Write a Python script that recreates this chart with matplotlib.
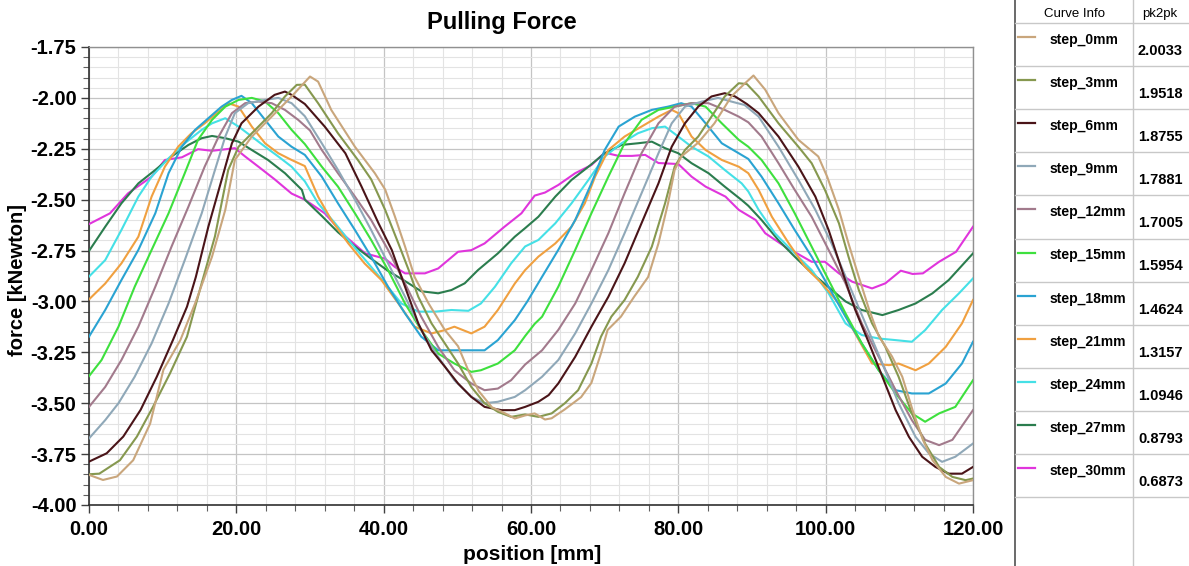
import matplotlib
matplotlib.use("Agg")
import matplotlib.pyplot as plt
from matplotlib.ticker import MultipleLocator, FormatStrFormatter

plt.rcParams["font.family"] = ["Liberation Sans", "DejaVu Sans"]

# ----------------------------------------------------------------------------------------------------------------------
# Curve data (position [mm], force [kNewton])

names = ["step_0mm", "step_3mm", "step_6mm", "step_9mm", "step_12mm", "step_15mm",
         "step_18mm", "step_21mm", "step_24mm", "step_27mm", "step_30mm"]
pk2pk = ["2.0033", "1.9518", "1.8755", "1.7881", "1.7005", "1.5954",
         "1.4624", "1.3157", "1.0946", "0.8793", "0.6873"]
colors = ["#c9a67c", "#86984f", "#4a1418", "#8fa8b8", "#a27a8c", "#3ee03e",
          "#2aa3d2", "#f0a040", "#45e0e6", "#2b7d4e", "#e035dc"]

x0 = [0, 1.9, 3.8, 6.0, 8.3, 10.1, 12.4, 14.4, 16.7, 18.5, 19.8, 22.1, 24.8, 27.5, 30.0, 31.1, 32.9, 36.1,
      38.8, 40.2, 41.5, 42.9, 44.2, 46.1, 48.3, 50.1, 51.5, 52.9, 54.7, 56.5, 57.8, 59.2, 60.5, 61.9, 62.8,
      64.6, 66.8, 68.2, 69.5, 70.4, 72.2, 74.0, 75.9, 77.3, 78.6, 79.5, 80.4, 82.7, 84.9, 87.2, 89.0, 90.2,
      91.8, 93.6, 96.3, 99.0, 100.2, 101.8, 103.1, 104.5, 105.9, 107.2, 109.0, 110.4, 111.8, 113.2, 114.5,
      116.3, 118.1, 120]
y0 = [-3.852, -3.877, -3.86, -3.78, -3.60, -3.336, -3.19, -3.01, -2.78, -2.55, -2.305, -2.19, -2.092, -1.993,
      -1.895, -1.92, -2.06, -2.24, -2.37, -2.45, -2.58, -2.73, -2.88, -3.01, -3.14, -3.22, -3.34, -3.44, -3.52,
      -3.55, -3.575, -3.56, -3.55, -3.58, -3.574, -3.53, -3.47, -3.40, -3.255, -3.14, -3.075, -2.977, -2.88,
      -2.715, -2.518, -2.354, -2.288, -2.22, -2.125, -1.993, -1.93, -1.89, -1.96, -2.075, -2.206, -2.288,
      -2.387, -2.55, -2.715, -2.88, -3.04, -3.17, -3.27, -3.37, -3.534, -3.68, -3.78, -3.862, -3.895, -3.878]

x3 = [0, 1.4, 4.2, 6.5, 8.7, 11.0, 13.3, 15.3, 17.1, 18.9, 20.3, 22.1, 24.8, 26.6, 28.2, 29.3, 31.1, 33.8,
      36.5, 38.3, 40.2, 42.0, 43.4, 44.7, 46.5, 48.3, 50.1, 51.9, 53.7, 55.5, 57.3, 59.2, 61.0, 62.8, 64.6,
      66.4, 68.2, 69.5, 70.9, 72.7, 74.5, 76.4, 78.2, 79.5, 80.9, 82.7, 84.5, 86.3, 88.2, 89.3, 90.9, 93.6,
      96.3, 98.1, 99.9, 101.8, 103.1, 104.5, 106.3, 108.1, 109.9, 111.7, 113.5, 115.4, 117.2, 119.0, 120]
y3 = [-3.849, -3.846, -3.78, -3.664, -3.517, -3.353, -3.173, -2.91, -2.68, -2.354, -2.24, -2.174, -2.075,
      -1.993, -1.936, -1.935, -2.026, -2.174, -2.305, -2.40, -2.55, -2.715, -2.846, -2.977, -3.108, -3.206,
      -3.305, -3.42, -3.50, -3.542, -3.567, -3.555, -3.567, -3.55, -3.50, -3.436, -3.305, -3.173, -3.075,
      -2.993, -2.879, -2.731, -2.518, -2.338, -2.256, -2.19, -2.092, -1.993, -1.928, -1.932, -1.993, -2.125,
      -2.24, -2.321, -2.452, -2.616, -2.78, -2.944, -3.108, -3.223, -3.37, -3.55, -3.698, -3.813, -3.862,
      -3.878, -3.87]

x6 = [0, 2.4, 4.65, 7.0, 9.2, 11.4, 13.3, 14.5, 16.2, 18.0, 19.4, 20.7, 23.0, 25.2, 26.6, 27.5, 28.9, 29.3,
      32.0, 34.8, 37.0, 39.3, 41.1, 42.9, 44.7, 46.5, 48.3, 50.1, 51.9, 53.7, 56.0, 57.8, 59.2, 61.0, 62.4,
      63.7, 66.0, 68.2, 70.5, 72.7, 75.0, 77.3, 79.1, 80.9, 82.7, 84.5, 86.3, 87.7, 89.3, 90.9, 93.6, 96.3,
      98.6, 100.4, 102.2, 104.0, 105.9, 107.7, 109.5, 111.3, 113.1, 114.9, 116.7, 118.5, 120]
y6 = [-3.787, -3.746, -3.664, -3.533, -3.37, -3.189, -3.026, -2.88, -2.633, -2.403, -2.223, -2.125, -2.043,
      -1.985, -1.969, -1.985, -2.02, -2.03, -2.141, -2.272, -2.436, -2.616, -2.747, -2.928, -3.108, -3.24,
      -3.32, -3.403, -3.469, -3.518, -3.534, -3.534, -3.518, -3.493, -3.46, -3.403, -3.272, -3.124, -2.977,
      -2.813, -2.616, -2.42, -2.24, -2.125, -2.043, -1.993, -1.977, -1.993, -2.03, -2.075, -2.19, -2.338,
      -2.485, -2.649, -2.846, -3.04, -3.206, -3.37, -3.534, -3.665, -3.763, -3.813, -3.846, -3.846, -3.813]

x9 = [0, 2.2, 4.0, 6.2, 8.5, 10.8, 13.0, 15.3, 17.1, 18.5, 19.8, 21.6, 23.9, 25.7, 27.5, 29.3, 31.6, 33.8,
      36.1, 38.3, 40.6, 42.9, 45.1, 47.4, 49.6, 51.9, 53.7, 55.5, 57.8, 59.2, 61.5, 63.7, 66.0, 68.2, 70.5,
      72.7, 75.0, 77.3, 79.1, 80.9, 83.2, 85.4, 87.2, 89.0, 90.9, 93.6, 96.3, 98.6, 100.8, 103.1, 105.4,
      107.7, 109.9, 112.2, 114.0, 115.8, 117.6, 120]
y9 = [-3.673, -3.583, -3.50, -3.37, -3.206, -3.01, -2.797, -2.567, -2.354, -2.19, -2.075, -2.026, -2.01,
      -2.0, -2.026, -2.09, -2.223, -2.354, -2.50, -2.649, -2.813, -2.977, -3.141, -3.272, -3.387, -3.469,
      -3.50, -3.493, -3.469, -3.436, -3.37, -3.288, -3.157, -3.01, -2.846, -2.665, -2.469, -2.272, -2.125,
      -2.043, -2.018, -2.0, -2.018, -2.035, -2.092, -2.24, -2.403, -2.55, -2.715, -2.912, -3.108, -3.305,
      -3.50, -3.665, -3.746, -3.788, -3.763, -3.698]

x12 = [0, 2.2, 4.4, 6.7, 9.0, 11.2, 13.5, 15.7, 17.6, 19.4, 21.2, 23.0, 24.8, 26.6, 28.4, 30.0, 31.6, 33.8,
       36.1, 38.3, 40.6, 42.9, 45.1, 47.4, 49.6, 51.9, 53.7, 55.5, 57.3, 59.2, 61.5, 63.7, 66.0, 68.2, 70.5,
       72.7, 75.0, 77.3, 79.5, 81.8, 84.1, 86.3, 88.2, 89.5, 91.3, 93.6, 95.8, 98.1, 100.4, 102.7, 104.9,
       107.2, 109.5, 111.7, 113.5, 115.4, 117.2, 120]
y12 = [-3.518, -3.42, -3.288, -3.124, -2.928, -2.731, -2.534, -2.338, -2.19, -2.075, -2.026, -2.018, -2.026,
       -2.059, -2.108, -2.16, -2.256, -2.37, -2.485, -2.60, -2.747, -2.912, -3.075, -3.223, -3.338, -3.403,
       -3.436, -3.428, -3.387, -3.31, -3.24, -3.14, -3.01, -2.846, -2.665, -2.469, -2.272, -2.125, -2.043,
       -2.026, -2.026, -2.059, -2.092, -2.12, -2.19, -2.321, -2.452, -2.584, -2.747, -2.912, -3.108, -3.272,
       -3.436, -3.583, -3.68, -3.706, -3.68, -3.534]

x15 = [0, 1.7, 4.0, 6.2, 8.5, 10.8, 13.0, 14.8, 16.7, 18.5, 20.3, 22.1, 23.9, 25.7, 27.5, 29.3, 31.6, 33.8,
       36.1, 38.3, 40.6, 42.9, 45.1, 47.4, 49.6, 51.9, 53.2, 55.5, 57.8, 59.2, 60.5, 61.5, 63.7, 66.0, 68.2,
       70.5, 72.7, 75.0, 77.3, 79.5, 81.8, 83.7, 85.9, 88.2, 89.5, 91.3, 93.6, 95.8, 98.1, 100.4, 102.7,
       104.9, 107.2, 109.5, 111.7, 113.5, 115.4, 117.6, 120]
y15 = [-3.367, -3.288, -3.124, -2.928, -2.747, -2.567, -2.37, -2.206, -2.108, -2.043, -2.01, -2.0, -2.018,
       -2.075, -2.157, -2.227, -2.338, -2.436, -2.567, -2.698, -2.846, -3.01, -3.141, -3.256, -3.305, -3.346,
       -3.338, -3.305, -3.24, -3.17, -3.11, -3.075, -2.928, -2.747, -2.567, -2.387, -2.223, -2.108, -2.059,
       -2.043, -2.026, -2.043, -2.125, -2.206, -2.24, -2.305, -2.42, -2.567, -2.731, -2.895, -3.059, -3.206,
       -3.338, -3.452, -3.55, -3.591, -3.55, -3.518, -3.387]

x18 = [0, 2.2, 4.4, 6.7, 9.0, 10.8, 12.6, 14.4, 16.2, 18.0, 19.4, 20.7, 22.1, 23.9, 25.7, 27.5, 29.3, 31.6,
       33.8, 36.1, 38.3, 40.6, 42.9, 45.1, 47.4, 49.6, 51.9, 53.7, 55.5, 57.8, 59.5, 61.5, 63.7, 66.0, 68.2,
       70.0, 71.9, 74.1, 76.4, 78.6, 80.4, 81.8, 83.7, 85.9, 88.2, 89.5, 91.3, 93.6, 95.8, 98.1, 100.4,
       102.7, 104.9, 107.2, 109.5, 111.7, 114.0, 116.3, 118.5, 120]
y18 = [-3.173, -3.042, -2.895, -2.747, -2.567, -2.37, -2.24, -2.157, -2.10, -2.043, -2.01, -1.99, -2.026,
       -2.108, -2.19, -2.24, -2.28, -2.387, -2.518, -2.649, -2.78, -2.928, -3.059, -3.173, -3.24, -3.24,
       -3.24, -3.24, -3.19, -3.092, -3.0, -2.879, -2.747, -2.60, -2.42, -2.256, -2.141, -2.092, -2.059,
       -2.043, -2.026, -2.043, -2.125, -2.223, -2.272, -2.30, -2.387, -2.518, -2.649, -2.78, -2.928, -3.075,
       -3.206, -3.338, -3.436, -3.452, -3.452, -3.403, -3.305, -3.198]

x21 = [0, 2.2, 4.4, 6.7, 8.5, 10.3, 12.1, 13.9, 15.7, 17.6, 18.9, 20.3, 22.1, 23.9, 25.7, 27.5, 29.3, 31.1,
       32.9, 35.2, 37.4, 39.7, 42.0, 44.2, 46.5, 48.3, 49.6, 51.9, 53.7, 55.5, 57.8, 59.2, 61.0, 63.3, 65.5,
       67.3, 68.7, 70.5, 72.7, 75.0, 77.3, 79.1, 80.0, 81.8, 83.7, 85.9, 88.2, 89.5, 90.9, 92.7, 95.0, 97.2,
       99.5, 101.8, 104.0, 106.3, 108.6, 109.9, 112.2, 114.0, 116.3, 118.5, 120]
y21 = [-2.99, -2.912, -2.813, -2.682, -2.485, -2.338, -2.24, -2.174, -2.125, -2.067, -2.026, -2.043, -2.141,
       -2.223, -2.272, -2.305, -2.335, -2.485, -2.60, -2.715, -2.813, -2.895, -3.01, -3.124, -3.157, -3.141,
       -3.124, -3.157, -3.124, -3.042, -2.912, -2.846, -2.78, -2.715, -2.633, -2.518, -2.387, -2.256, -2.19,
       -2.141, -2.092, -2.059, -2.075, -2.19, -2.256, -2.305, -2.338, -2.37, -2.452, -2.584, -2.715, -2.83,
       -2.912, -3.01, -3.157, -3.305, -3.313, -3.305, -3.338, -3.305, -3.223, -3.108, -2.993]

x24 = [0, 2.2, 4.4, 6.7, 8.5, 10.8, 13.0, 15.3, 16.7, 18.5, 20.3, 22.1, 23.9, 25.7, 27.5, 29.3, 31.1, 33.4,
       35.6, 37.9, 40.2, 42.4, 44.7, 47.0, 49.2, 51.5, 53.2, 55.1, 57.3, 59.2, 61.0, 63.3, 65.5, 67.8, 70.0,
       72.3, 74.5, 76.4, 78.2, 80.0, 81.8, 84.1, 86.3, 88.6, 89.5, 90.9, 93.1, 95.8, 98.1, 100.4, 102.7,
       104.9, 107.2, 109.5, 111.7, 113.5, 115.8, 118.1, 120]
y24 = [-2.878, -2.797, -2.649, -2.485, -2.387, -2.297, -2.223, -2.157, -2.125, -2.10, -2.141, -2.19, -2.24,
       -2.288, -2.338, -2.41, -2.518, -2.616, -2.715, -2.813, -2.912, -3.01, -3.05, -3.05, -3.042, -3.046,
       -3.01, -2.928, -2.813, -2.73, -2.698, -2.616, -2.518, -2.403, -2.288, -2.223, -2.174, -2.149, -2.141,
       -2.19, -2.24, -2.288, -2.354, -2.42, -2.46, -2.55, -2.665, -2.764, -2.846, -2.96, -3.108, -3.165,
       -3.182, -3.19, -3.198, -3.141, -3.042, -2.96, -2.887]

x27 = [0, 2.2, 4.4, 6.7, 9.0, 11.2, 13.5, 15.3, 16.7, 18.5, 20.3, 22.1, 24.3, 26.6, 28.9, 29.3, 31.6, 33.8,
       36.1, 38.3, 40.6, 42.9, 45.1, 47.4, 49.2, 51.0, 52.8, 55.5, 57.8, 59.2, 61.0, 63.3, 65.5, 67.8, 70.0,
       72.3, 74.5, 76.4, 78.2, 80.0, 81.8, 84.1, 86.3, 88.6, 89.5, 91.3, 93.6, 95.8, 98.1, 100.4, 102.7,
       104.9, 107.7, 109.9, 112.2, 114.5, 116.7, 120]
y27 = [-2.752, -2.633, -2.518, -2.42, -2.354, -2.288, -2.231, -2.198, -2.187, -2.198, -2.215, -2.256, -2.305,
       -2.37, -2.452, -2.5, -2.58, -2.66, -2.73, -2.79, -2.85, -2.90, -2.95, -2.96, -2.944, -2.911, -2.846,
       -2.764, -2.682, -2.64, -2.584, -2.485, -2.403, -2.338, -2.272, -2.231, -2.223, -2.215, -2.247, -2.272,
       -2.321, -2.37, -2.436, -2.502, -2.53, -2.60, -2.70, -2.78, -2.86, -2.93, -3.0, -3.042, -3.067, -3.042,
       -3.01, -2.96, -2.895, -2.764]

x30 = [0, 2.85, 5.3, 8.5, 10.3, 12.6, 14.8, 16.7, 19.8, 21.2, 23.0, 25.2, 27.5, 29.3, 32.0, 34.8, 37.5, 40.2,
       41.5, 42.9, 45.6, 47.4, 50.1, 51.9, 53.7, 56.4, 58.7, 60.5, 61.9, 63.7, 66.0, 68.2, 70.0, 71.9, 73.7,
       75.5, 77.3, 80.0, 81.8, 83.7, 86.4, 88.2, 90.5, 91.8, 94.5, 98.1, 99.9, 101.8, 103.6, 106.3, 108.1,
       110.2, 111.8, 113.2, 115.4, 117.7, 120]
y30 = [-2.62, -2.567, -2.469, -2.387, -2.305, -2.292, -2.252, -2.26, -2.247, -2.288, -2.338, -2.40, -2.47,
       -2.50, -2.567, -2.68, -2.764, -2.79, -2.83, -2.862, -2.862, -2.838, -2.756, -2.748, -2.715, -2.633,
       -2.567, -2.48, -2.465, -2.428, -2.37, -2.33, -2.269, -2.285, -2.285, -2.28, -2.32, -2.325, -2.387,
       -2.436, -2.485, -2.55, -2.60, -2.665, -2.731, -2.805, -2.805, -2.862, -2.903, -2.936, -2.911, -2.849,
       -2.865, -2.862, -2.805, -2.756, -2.633]

xs = [x0, x3, x6, x9, x12, x15, x18, x21, x24, x27, x30]
ys = [y0, y3, y6, y9, y12, y15, y18, y21, y24, y27, y30]

# ----------------------------------------------------------------------------------------------------------------------

fig = plt.figure(figsize=(11.89, 5.66), dpi=100)
W, H = 1189.0, 566.0

ax = fig.add_axes([89 / W, 1 - 505 / H, (973 - 89) / W, (505 - 47) / H])

# Draw curves, last one first so step_0 ends up on top like the source
for i in range(len(names) - 1, -1, -1):
    ax.plot(xs[i], ys[i], color=colors[i], lw=1.5, solid_joinstyle="round", zorder=3)

ax.set_xlim(0, 120)
ax.set_ylim(-4.0, -1.75)

ax.xaxis.set_major_locator(MultipleLocator(20))
ax.xaxis.set_minor_locator(MultipleLocator(4))
ax.yaxis.set_major_locator(MultipleLocator(0.25))
ax.yaxis.set_minor_locator(MultipleLocator(0.05))
ax.xaxis.set_major_formatter(FormatStrFormatter("%.2f"))
ax.yaxis.set_major_formatter(FormatStrFormatter("%.2f"))

ax.grid(which="major", color="#c4c4c4", lw=0.9, zorder=0)
ax.grid(which="minor", color="#e3e3e3", lw=0.8, zorder=0)
ax.set_axisbelow(True)

ax.tick_params(which="major", direction="out", length=6, width=1, color="#404040",
               labelsize=14.5, pad=3)
ax.tick_params(which="minor", direction="out", length=4, width=0.8, color="#606060")
ax.tick_params(axis="x", pad=5)
for lab in ax.get_xticklabels() + ax.get_yticklabels():
    lab.set_fontweight("bold")

for side in ["left", "bottom"]:
    ax.spines[side].set_color("#303030")
    ax.spines[side].set_linewidth(1.2)
for side in ["top", "right"]:
    ax.spines[side].set_color("#909090")
    ax.spines[side].set_linewidth(1.0)

fig.text(502 / W, 1 - 23 / H, "Pulling Force", ha="center", va="center",
         fontsize=17, fontweight="bold")
fig.text(532 / W, 1 - 554 / H, "position [mm]", ha="center", va="center",
         fontsize=15, fontweight="bold")
fig.text(18 / W, 1 - 280 / H, "force [kNewton]", ha="center", va="center",
         fontsize=14.5, fontweight="bold", rotation=90)

# ----------------------------------------------------------------------------------------------------------------------
# Curve info table on the right, laid out in pixel units

tab = fig.add_axes([1010 / W, 0, (W - 1010) / W, 1])
tab.set_xlim(1010, W)
tab.set_ylim(H, 0)
tab.axis("off")

row_h = 43.1
top = 23
tab.plot([1015, 1015], [0, H], color="#505050", lw=1.2)
tab.plot([1133, 1133], [0, H], color="#c8c8c8", lw=1.0)
tab.plot([1015, W], [top, top], color="#c8c8c8", lw=1.0)
tab.text(1074, 14, "Curve Info", ha="center", va="center", fontsize=9.5)
tab.text(1160, 14, "pk2pk", ha="center", va="center", fontsize=9.5)

for i in range(len(names)):
    y_top = top + row_h * i
    tab.plot([1018, 1035], [y_top + 14, y_top + 14], color=colors[i], lw=1.6)
    tab.text(1050, y_top + 17, names[i], ha="left", va="center", fontsize=10, fontweight="bold")
    tab.text(1138, y_top + 28, pk2pk[i], ha="left", va="center", fontsize=10.5, fontweight="bold")
    tab.plot([1015, W], [y_top + row_h, y_top + row_h], color="#c8c8c8", lw=1.0)

fig.savefig("out.png", dpi=100)
